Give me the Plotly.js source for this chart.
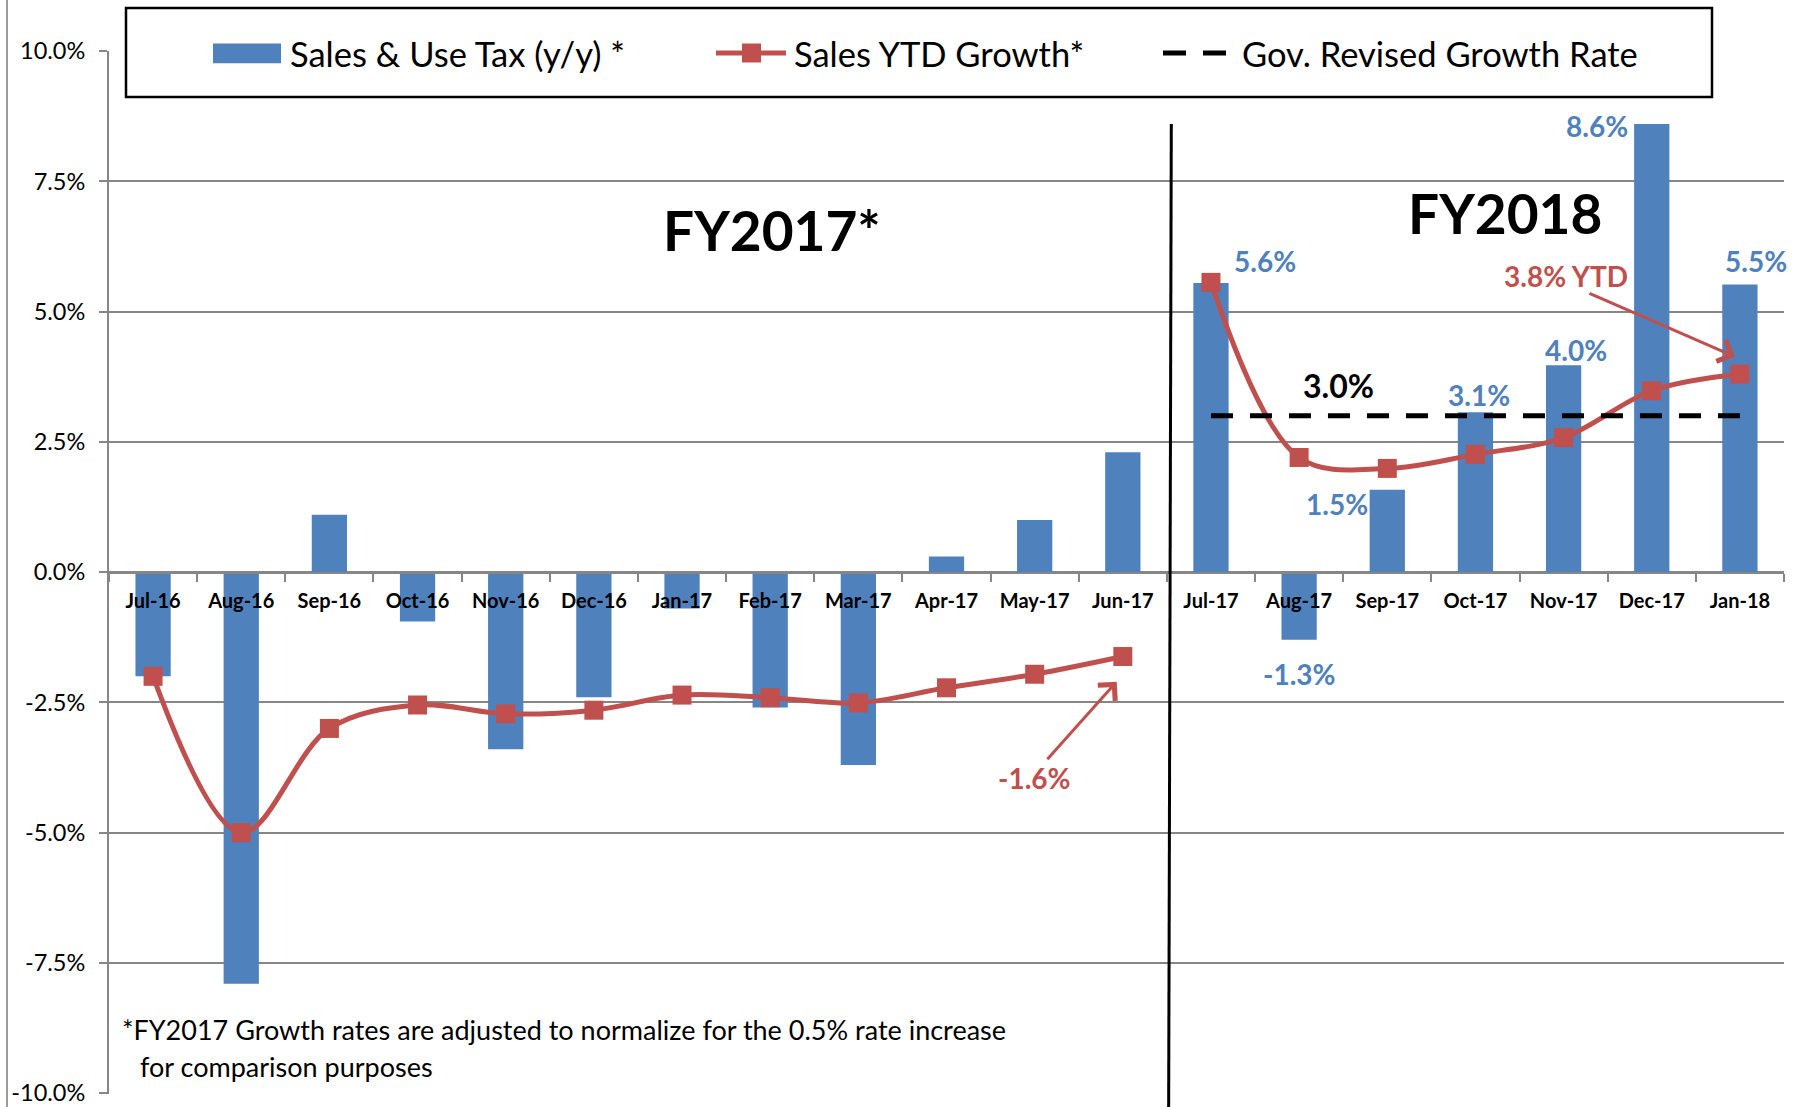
<!DOCTYPE html>
<html><head><meta charset="utf-8">
<script src="https://cdn.plot.ly/plotly-3.0.1.min.js"></script>
<style>html,body{margin:0;padding:0;background:#fff;}#chart{width:1806px;height:1107px;}</style>
</head><body><div id="chart"></div>
<script>
// ---- data ----
const months = ['Jul-16','Aug-16','Sep-16','Oct-16','Nov-16','Dec-16','Jan-17','Feb-17','Mar-17','Apr-17','May-17','Jun-17',
                'Jul-17','Aug-17','Sep-17','Oct-17','Nov-17','Dec-17','Jan-18'];
const salesUseTax = [-2.0,-7.9,1.1,-0.95,-3.4,-2.4,-0.7,-2.6,-3.7,0.3,1.0,2.3,
                     5.55,-1.3,1.58,3.07,3.97,8.6,5.52];
const monthsFY2017 = months.slice(0,12);
const monthsFY2018 = months.slice(12);
const ytdFY2017 = [-2.0,-5.0,-3.0,-2.55,-2.72,-2.65,-2.36,-2.41,-2.51,-2.22,-1.96,-1.62];
const ytdFY2018 = [5.56,2.2,1.99,2.26,2.58,3.48,3.8];
const govRevisedRate = [3.0,3.0,3.0,3.0,3.0,3.0,3.0];
const fy18LabelText = ['5.6%','-1.3%','1.5%','3.1%','4.0%','8.6%','5.5%'];
const yTickVals = [-10,-7.5,-5,-2.5,0,2.5,5,7.5,10];
const yTickText = ['-10.0%','-7.5%','-5.0%','-2.5%','0.0%','2.5%','5.0%','7.5%','10.0%'];
const seriesNames = ['Sales & Use Tax (y/y) *','Sales YTD Growth*','Gov. Revised Growth Rate'];

// ---- style ----
const BLUE='#4F81BD', RED='#C0504D', GRID='#868686';
const FONT="Lato, 'Liberation Sans', sans-serif";
const L=109, T=51, W=1675, H=1043;
const px = v => (v - L)/W;
const py = v => (T + H - v)/H;

const traces = [
  {type:'bar', x:months, y:salesUseTax, name:seriesNames[0], marker:{color:BLUE}, width:0.4, hoverinfo:'skip'},
  {type:'scatter', mode:'lines+markers', x:monthsFY2017, y:ytdFY2017, name:seriesNames[1],
   line:{color:RED, width:5, shape:'spline', smoothing:1}, marker:{symbol:'square', size:19, color:RED}, hoverinfo:'skip'},
  {type:'scatter', mode:'lines+markers', x:monthsFY2018, y:ytdFY2018, name:seriesNames[1],
   line:{color:RED, width:5, shape:'spline', smoothing:1}, marker:{symbol:'square', size:19, color:RED}, hoverinfo:'skip'},
  {type:'scatter', mode:'lines', x:monthsFY2018, y:govRevisedRate, name:seriesNames[2],
   line:{color:'#000', width:5, dash:'22px,17px'}, hoverinfo:'skip'}
];

// data labels for FY2018 bars: pixel offsets from bar ends
const labelOffsets = [[54,22],[0,-34],[-50,-14],[4,17],[12,15],[-55,-2],[16,23]];
const annotations = [];
monthsFY2018.forEach((m,i)=>{
  annotations.push({x:m, y:salesUseTax[12+i], xref:'x', yref:'y', text:fy18LabelText[i], showarrow:false,
    xshift:labelOffsets[i][0], yshift:labelOffsets[i][1], xanchor:'center', yanchor:'middle',
    font:{family:FONT, size:28, color:BLUE, weight:'bold'}});
});
const txt = (x,y,text,size,color,weight,xanchor) => ({x:px(x), y:py(y), xref:'paper', yref:'paper', text:text,
  showarrow:false, xanchor:xanchor||'center', yanchor:'middle', font:{family:FONT, size:size, color:color, weight:weight||'normal'}});
annotations.push(txt(772,230,'FY2017*',55,'#000','bold'));
annotations.push(txt(1505,213,'FY2018',55,'#000','bold'));
annotations.push(txt(1338,386,'3.0%',32,'#000','bold'));
annotations.push(txt(1566,276,'3.8% YTD',28,RED,'bold'));
annotations.push(txt(1034,778,'-1.6%',28,RED,'bold'));
annotations.push(txt(120,1029,'*FY2017 Growth rates are adjusted to normalize for the 0.5% rate increase',27,'#000','normal','left'));
annotations.push(txt(138,1066,'for comparison purposes',27,'#000','normal','left'));
// arrows
annotations.push({x:px(1735), y:py(356.7), xref:'paper', yref:'paper', text:'', showarrow:true,
  ax:1588-1735, ay:292.7-356.7, arrowhead:4, arrowsize:1.5, arrowwidth:3, arrowcolor:RED});
annotations.push({x:px(1116.7), y:py(681.7), xref:'paper', yref:'paper', text:'', showarrow:true,
  ax:1046-1116.7, ay:760.7-681.7, arrowhead:4, arrowsize:1.5, arrowwidth:3, arrowcolor:RED});
// legend texts
annotations.push(txt(288,53,seriesNames[0],34.5,'#000','normal','left'));
annotations.push(txt(792,53,seriesNames[1],34.5,'#000','normal','left'));
annotations.push(txt(1240,53,seriesNames[2],34.5,'#000','normal','left'));

const shapes = [
  // outer chart border at left
  {type:'line', xref:'paper', yref:'paper', x0:px(7), x1:px(7), y0:py(0), y1:py(1107), line:{color:'#9a9a9a', width:2}},
  // FY divider
  {type:'line', xref:'x', yref:'paper', x0:11.55, x1:11.52, y0:py(124), y1:py(1107), line:{color:'#000', width:3}},
  // legend box
  {type:'rect', xref:'paper', yref:'paper', x0:px(126), x1:px(1712), y0:py(8), y1:py(97), fillcolor:'#fff', line:{color:'#000', width:2.5}, layer:'above'},
  {type:'rect', xref:'paper', yref:'paper', x0:px(213), x1:px(281), y0:py(43.5), y1:py(63.3), fillcolor:BLUE, line:{width:0}, layer:'above'},
  {type:'line', xref:'paper', yref:'paper', x0:px(716), x1:px(786), y0:py(53), y1:py(53), line:{color:RED, width:5}, layer:'above'},
  {type:'rect', xref:'paper', yref:'paper', x0:px(742), x1:px(761), y0:py(43.5), y1:py(62.5), fillcolor:RED, line:{width:0}, layer:'above'},
  {type:'line', xref:'paper', yref:'paper', x0:px(1163), x1:px(1226), y0:py(53), y1:py(53), line:{color:'#000', width:5, dash:'23px,17px'}, layer:'above'}
];

const layout = {
  width:1806, height:1107, margin:{l:L, r:1806-L-W, t:T, b:1107-T-H},
  paper_bgcolor:'#fff', plot_bgcolor:'#fff', showlegend:false, bargap:0.6,
  font:{family:FONT, color:'#000'},
  xaxis:{type:'category', anchor:'free', position:0.5, range:[-0.5,18.5], showgrid:false,
    showline:true, linecolor:GRID, linewidth:2, ticks:'outside', tickson:'boundaries', ticklen:8, tickwidth:2, tickcolor:GRID,
    tickfont:{family:FONT, size:20, color:'#000', weight:'bold'}, ticklabelstandoff:10, fixedrange:true},
  yaxis:{range:[-10.015,10], tickvals:yTickVals, ticktext:yTickText, showgrid:true, gridcolor:GRID, gridwidth:2, zeroline:false,
    showline:true, linecolor:GRID, linewidth:2, ticks:'outside', ticklen:8, tickwidth:2, tickcolor:GRID,
    tickfont:{family:FONT, size:23.5, color:'#000'}, ticklabelstandoff:9, fixedrange:true},
  shapes:shapes, annotations:annotations
};
Plotly.newPlot('chart', traces, layout, {staticPlot:true, displayModeBar:false});
</script></body></html>
